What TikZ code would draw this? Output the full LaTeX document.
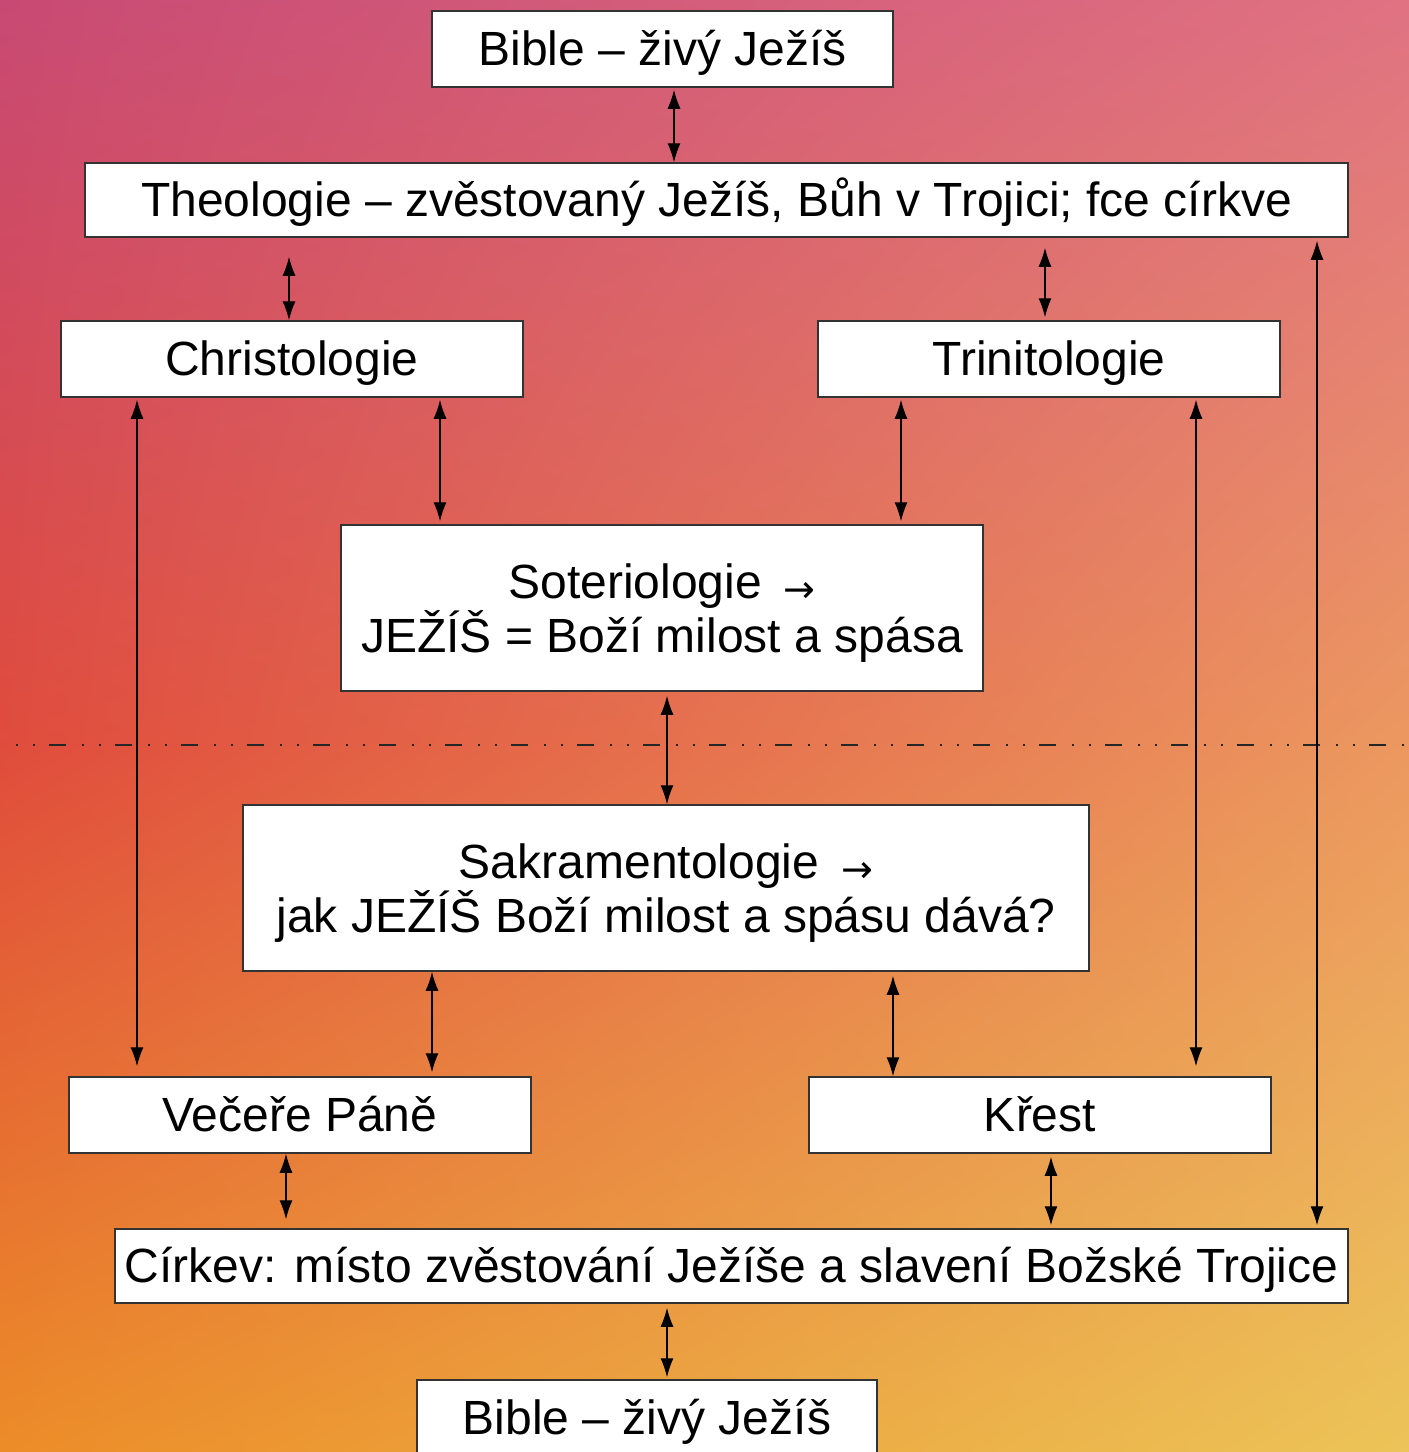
\documentclass[tikz,border=0pt]{standalone}
\usepackage{fontspec}
\setmainfont{Liberation Sans}
\newfontfamily\arrfont{DejaVu Sans}
\usetikzlibrary{arrows.meta,shadings}
\definecolor{bgUL}{HTML}{C84A74}
\definecolor{bgUR}{HTML}{E07282}
\definecolor{bgML}{HTML}{E04C3C}
\definecolor{bgMR}{HTML}{EC9860}
\definecolor{bgLL}{HTML}{EC8C28}
\definecolor{bgLR}{HTML}{ECC458}
\definecolor{boxline}{HTML}{333333}
\tikzset{
  box/.style={draw=boxline, line width=1.5pt, fill=white, inner sep=0pt, align=center,
    font=\fontsize{48}{54}\selectfont, text=black},
  oneline/.style={box, minimum height=76pt, text height=44pt, text depth=12pt},
  twoline/.style={box, minimum height=166pt, text height=100pt, text depth=12pt},
  dar/.style={{Latex[length=19pt,width=13pt]}-{Latex[length=19pt,width=13pt]}, line width=1.3pt, draw=black}
}
\newcommand{\sarr}{\hspace{22pt}\raisebox{-4pt}{\arrfont\fontsize{38}{38}\selectfont →}}
\begin{document}
\begin{tikzpicture}[x=1pt,y={(0pt,-1pt)}]
\useasboundingbox (0,0) rectangle (1409,1452);
% background
\shade[upper left=bgUL, upper right=bgUR, lower left=bgML, lower right=bgMR] (0,0) rectangle (1409,746);
\shade[upper left=bgML, upper right=bgMR, lower left=bgLL, lower right=bgLR] (0,745) rectangle (1409,1452);
% dashed separator
\draw[dash pattern=on 2pt off 15pt on 2pt off 14pt on 17pt off 16pt, line width=1.5pt, black!85] (16,745) -- (1409,745);
% boxes
\node[oneline, minimum width=461pt] (b1) at (662.5,49) {Bible – živý Ježíš};
\node[oneline, minimum width=1263pt, minimum height=74pt] (theo) at (716.5,200) {Theologie – zvěstovaný Ježíš, Bůh v Trojici; fce církve};
\node[oneline, minimum width=462pt] (chr) at (292,359) {Christologie};
\node[oneline, minimum width=462pt] (tri) at (1049,359) {Trinitologie};
\node[twoline, minimum width=642pt] (sot) at (662,608) {Soteriologie\sarr\\JEŽÍŠ = Boží milost a spása};
\node[twoline, minimum width=846pt] (sak) at (666,888) {Sakramentologie\sarr\\jak JEŽÍŠ Boží milost a spásu dává?};
\node[oneline, minimum width=462pt] (vec) at (300,1115) {Večeře Páně};
\node[oneline, minimum width=462pt] (kre) at (1040,1115) {Křest};
\node[oneline, minimum width=1233pt, minimum height=74pt] (cir) at (731.5,1266) {Církev: místo zvěstování Ježíše a slavení Božské Trojice};
\node[oneline, minimum width=460pt] (b2) at (647,1418) {Bible – živý Ježíš};
% connectors
\draw[dar, shorten <=2pt] (b1.south -| 674,0) -- (theo.north -| 674,0);
\draw[dar, shorten <=19pt] (theo.south -| 289,0) -- (chr.north -| 289,0);
\draw[dar, shorten <=10pt, shorten >=3pt] (theo.south -| 1045,0) -- (tri.north -| 1045,0);
\draw[dar, shorten <=3pt, shorten >=3pt] (theo.south -| 1317,0) -- (cir.north -| 1317,0);
\draw[dar, shorten <=2pt, shorten >=10pt] (chr.south -| 137,0) -- (vec.north -| 137,0);
\draw[dar, shorten <=2pt, shorten >=3pt] (chr.south -| 440,0) -- (sot.north -| 440,0);
\draw[dar, shorten <=2pt, shorten >=3pt] (tri.south -| 901,0) -- (sot.north -| 901,0);
\draw[dar, shorten <=2pt, shorten >=10pt] (tri.south -| 1196,0) -- (kre.north -| 1196,0);
\draw[dar, shorten <=4pt] (sot.south -| 667,0) -- (sak.north -| 667,0);
\draw[dar, shorten >=4pt] (sak.south -| 432,0) -- (vec.north -| 432,0);
\draw[dar, shorten <=4pt] (sak.south -| 893,0) -- (kre.north -| 893,0);
\draw[dar, shorten >=9pt] (vec.south -| 286,0) -- (cir.north -| 286,0);
\draw[dar, shorten <=3pt, shorten >=3pt] (kre.south -| 1051,0) -- (cir.north -| 1051,0);
\draw[dar, shorten <=4pt, shorten >=2pt] (cir.south -| 667,0) -- (b2.north -| 667,0);
\end{tikzpicture}
\end{document}
